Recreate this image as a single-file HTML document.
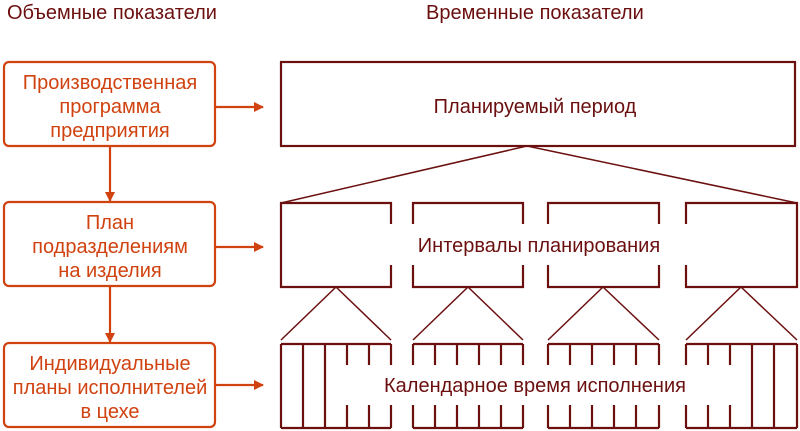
<!DOCTYPE html>
<html><head><meta charset="utf-8"><style>
html,body{margin:0;padding:0;background:#fff;width:800px;height:431px;overflow:hidden}
svg{display:block}
text{font-family:"Liberation Sans","DejaVu Sans",sans-serif;font-size:20px}
</style></head><body>
<svg width="800" height="431" viewBox="0 0 800 431" xmlns="http://www.w3.org/2000/svg">
<defs>
<marker id="ar" markerWidth="10" markerHeight="10" refX="9" refY="5" orient="auto" markerUnits="userSpaceOnUse">
<path d="M0,0 L10,5 L0,10 z" fill="#d0420f"/></marker>
</defs>
<g fill="#6b0f0f">
<text x="7" y="19">Объемные показатели</text>
<text x="426" y="19">Временные показатели</text>
</g>
<g fill="none" stroke="#d0420f" stroke-width="2.2">
<rect x="4" y="62" width="211" height="84" rx="5"/>
<rect x="4" y="202" width="211" height="84" rx="5"/>
<rect x="4" y="343" width="211" height="84" rx="5"/>
<line x1="110" y1="146" x2="110" y2="201" marker-end="url(#ar)"/>
<line x1="110" y1="286" x2="110" y2="342" marker-end="url(#ar)"/>
<line x1="215" y1="107" x2="263" y2="107" marker-end="url(#ar)"/>
<line x1="215" y1="247" x2="263" y2="247" marker-end="url(#ar)"/>
<line x1="215" y1="385" x2="263" y2="385" marker-end="url(#ar)"/>
</g>
<g fill="#d0420f" text-anchor="middle">
<text x="110" y="89">Производственная</text>
<text x="110" y="113">программа</text>
<text x="110" y="137">предприятия</text>
<text x="110" y="229">План</text>
<text x="110" y="253">подразделениям</text>
<text x="110" y="277">на изделия</text>
<text x="110" y="370">Индивидуальные</text>
<text x="110" y="394">планы исполнителей</text>
<text x="110" y="418">в цехе</text>
</g>
<g fill="none" stroke="#6b0f0f" stroke-width="2.2">
<rect x="281" y="62" width="514" height="84"/>
<line x1="527" y1="146" x2="281" y2="203" stroke-width="1.5"/>
<line x1="527" y1="146" x2="797" y2="203" stroke-width="1.5"/>
<path d="M391,224 V203 H281 V287 H391 V265"/>
<path d="M413,224 V203 H523 V224 M413,265 V287 H523 V265"/>
<path d="M548,224 V203 H659 V224 M548,265 V287 H659 V265"/>
<path d="M686,224 V203 H797 V287 H686 V265"/>
<g stroke-width="1.5">
<path d="M281,340 L336,287 L391,340"/>
<path d="M413,340 L468,287 L523,340"/>
<path d="M548,340 L603,287 L659,340"/>
<path d="M686,340 L741,287 L797,340"/>
</g>
<path d="M281,344 H391 M281,428 H391 M281,344 V428 M303,344 V428 M325,344 V428 M347,344 V365 M369,344 V365 M391,344 V365 M347,405 V428 M369,405 V428 M391,405 V428"/>
<path d="M413,344 H523 M413,428 H523 M413,344 V365 M435,344 V365 M457,344 V365 M479,344 V365 M501,344 V365 M523,344 V365 M413,405 V428 M435,405 V428 M457,405 V428 M479,405 V428 M501,405 V428 M523,405 V428"/>
<path d="M548,344 H659 M548,428 H659 M548,344 V365 M570,344 V365 M592,344 V365 M614,344 V365 M636,344 V365 M659,344 V365 M548,405 V428 M570,405 V428 M592,405 V428 M614,405 V428 M636,405 V428 M659,405 V428"/>
<path d="M686,344 H797 M686,428 H797 M686,344 V365 M708,344 V365 M730,344 V365 M686,405 V428 M708,405 V428 M730,405 V428 M752,344 V428 M774,344 V428 M797,344 V428"/>
</g>
<g fill="#6b0f0f" text-anchor="middle">
<text x="535" y="113">Планируемый период</text>
<text x="539" y="252">Интервалы планирования</text>
<text x="535" y="392">Календарное время исполнения</text>
</g>
</svg>
</body></html>
